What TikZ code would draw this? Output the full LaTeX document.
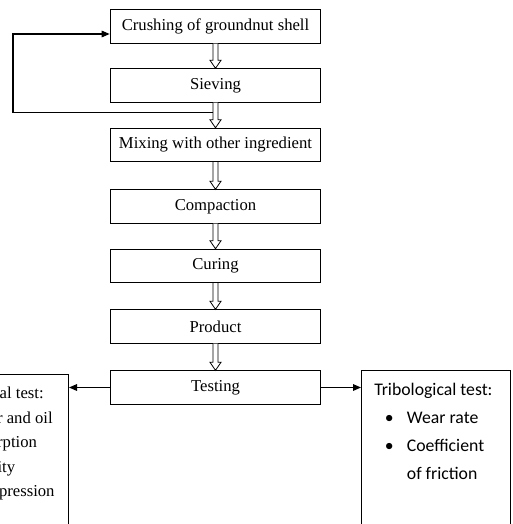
\documentclass[tikz,border=0pt]{standalone}
\usepackage{fontspec}
\setmainfont{Liberation Serif}
\newfontfamily\calibrifont{Carlito}
\usepackage{tikz}
\usetikzlibrary{arrows.meta,positioning,calc}

\tikzset{
  stepbox/.style={draw, line width=0.8pt, minimum width=158pt, minimum height=25pt, inner sep=0pt, font=\fontsize{12.5}{14}\selectfont},
  testbox/.style={draw, line width=0.8pt, inner sep=0pt},
  feed/.style={line width=0.8pt, -{Triangle[length=6pt,width=5pt]}},
}
% hollow block arrow from the bottom of one box to the top of the next
\newcommand{\hollowdown}[2]{%
  \draw[line width=0.6pt, fill=white] ($(#1.south)+(-2.5,0)$) -- ($(#2.north)+(-2.5,-8)$) -- ++(-3,0)
    -- (#2.north) -- ++(5.5,-8) -- ++(-3,0) -- ($(#1.south)+(2.5,0)$);}

\begin{document}
\begin{tikzpicture}[x=0.75pt, y=-0.75pt]
  \clip (0,0) rectangle (512,524);
  % process steps, top to bottom
  \foreach \nm/\yy/\txt in {crush/26.5/Crushing of groundnut shell, sieve/85.5/Sieving,
      mix/145/Mixing with other ingredient, compact/206.5/Compaction, cure/266/Curing,
      product/326.5/Product, testing/387.5/Testing}{
    \node[stepbox] (\nm) at (215.5,\yy) {\txt};
  }
  \foreach \a/\b in {crush/sieve, sieve/mix, mix/compact, compact/cure, cure/product, product/testing}{
    \hollowdown{\a}{\b}
  }
  % oversize material goes back to crushing
  \coordinate (loopstart) at ($(sieve.south)+(-2.5,10)$);
  \coordinate (loopcorner) at (loopstart -| 13,0);
  \draw[feed] (loopstart) -- (loopcorner) |- (crush.west |- 0,34);
  % test boxes
  \node[testbox, anchor=north east, minimum width=89pt, minimum height=128pt] (phys) at (69,374) {};
  \node[anchor=north west, inner sep=0pt, align=left, font=\fontsize{12.5}{18.4}\selectfont] (physlist) at (-45,387)
    {Physical test:\\ \hspace*{6pt}Water and oil\\ \hspace*{8.5pt}absorption\\ \hspace*{6pt}Density\\ \hspace*{8.5pt}Compression};
  \node[testbox, anchor=north west, minimum width=112pt, minimum height=128pt] (tribo) at (361,370) {};
  \node[anchor=north west, inner sep=0pt, align=left, font=\calibrifont\fontsize{13.3}{21}\selectfont] (tribolist) at (374,383)
    {Tribological test:\\
     \hspace*{8pt}\makebox[16.5pt][l]{\textbullet}Wear rate\\
     \hspace*{8pt}\makebox[16.5pt][l]{\textbullet}Coefficient\\
     \hspace*{24.5pt}of friction};
  \draw[feed] (testing.west) -- (phys.east |- testing.west);
  \draw[feed] (testing.east) -- (tribo.west |- testing.east);
\end{tikzpicture}
\end{document}
